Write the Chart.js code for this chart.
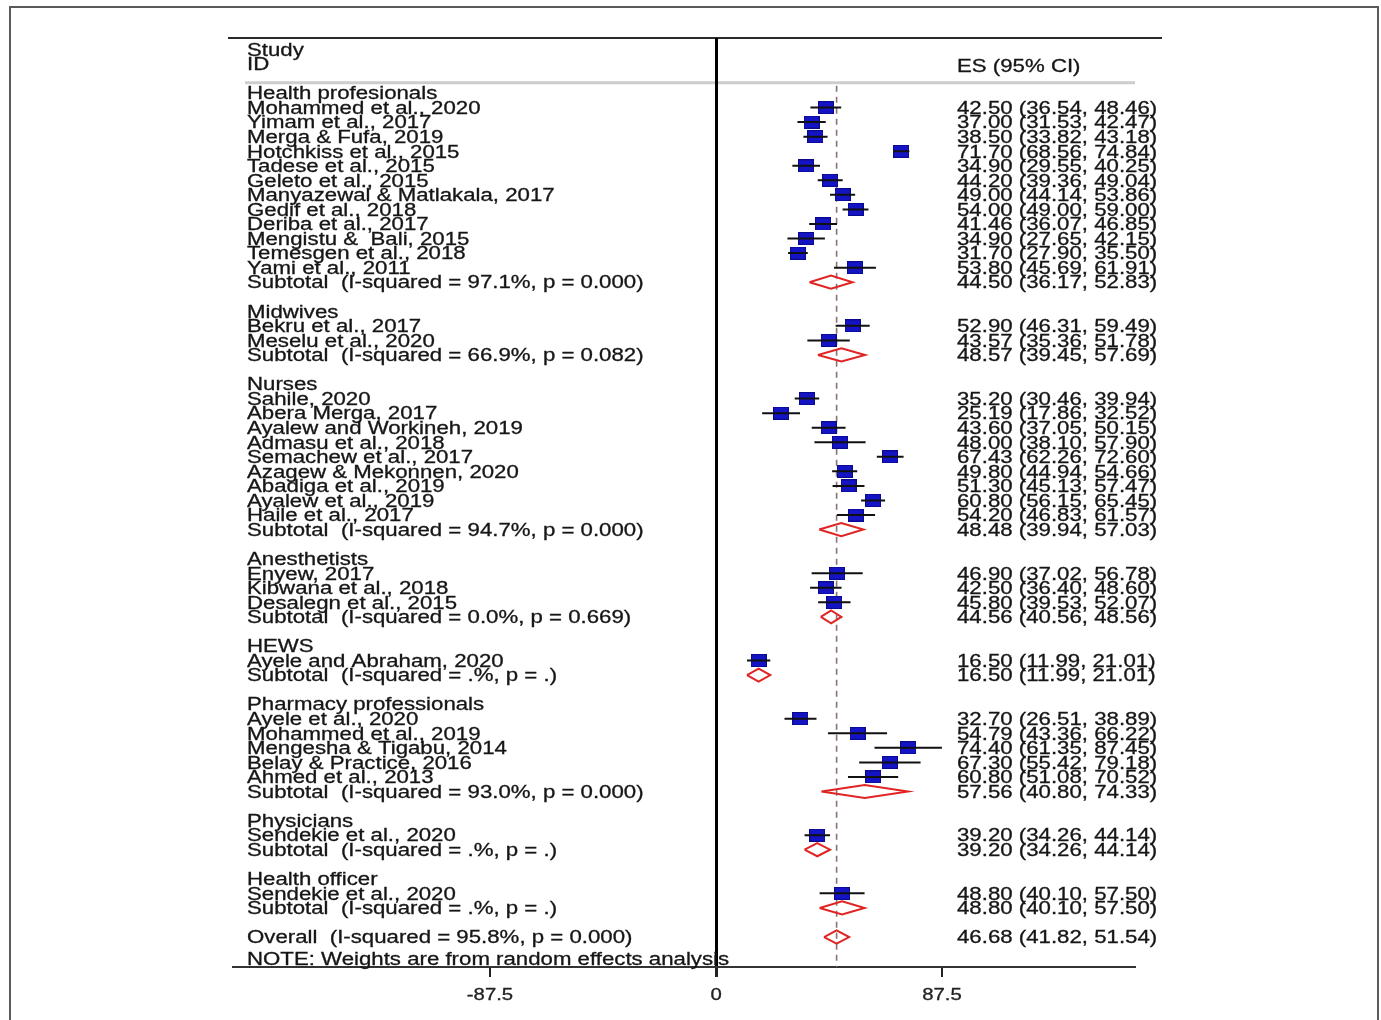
<!DOCTYPE html>
<html>
<head>
<meta charset="utf-8">
<script src="https://cdn.jsdelivr.net/npm/chart.js@4.4.1/dist/chart.umd.min.js"></script>
<style>
  html, body { margin: 0; padding: 0; background: #fff; }
  #wrap { position: relative; width: 1381px; height: 1020px; }
</style>
</head>
<body>
<div id="wrap"><canvas id="forest"></canvas></div>
<script>
// ---- data ----
const groupNames = [
    'Health profesionals', 'Midwives', 'Nurses', 'Anesthetists',
    'HEWS', 'Pharmacy professionals', 'Physicians', 'Health officer'
];

const studyNames = [
    'Mohammed et al., 2020', 'Yimam et al., 2017', 'Merga & Fufa, 2019', 'Hotchkiss et al., 2015',
    'Tadese et al., 2015', 'Geleto et al., 2015', 'Manyazewal & Matlakala, 2017', 'Gedif et al., 2018',
    'Deriba et al., 2017', 'Mengistu &  Bali, 2015', 'Temesgen et al., 2018', 'Yami et al., 2011',
    'Bekru et al., 2017', 'Meselu et al., 2020',
    'Sahile, 2020', 'Abera Merga, 2017', 'Ayalew and Workineh, 2019', 'Admasu et al., 2018',
    'Semachew et al., 2017', 'Azagew & Mekonnen, 2020', 'Abadiga et al., 2019', 'Ayalew et al., 2019',
    'Haile et al., 2017',
    'Enyew, 2017', 'Kibwana et al., 2018', 'Desalegn et al., 2015',
    'Ayele and Abraham, 2020',
    'Ayele et al., 2020', 'Mohammed et al., 2019', 'Mengesha & Tigabu, 2014', 'Belay & Practice, 2016',
    'Ahmed et al., 2013',
    'Sendekie et al., 2020',
    'Sendekie et al., 2020'
];
const studyGroup = [
    0, 0, 0, 0, 0, 0, 0, 0, 0, 0, 0, 0,
    1, 1,
    2, 2, 2, 2, 2, 2, 2, 2, 2,
    3, 3, 3,
    4,
    5, 5, 5, 5, 5,
    6,
    7
];
const studyES = [
    42.50, 37.00, 38.50, 71.70, 34.90, 44.20, 49.00, 54.00, 41.46, 34.90, 31.70, 53.80,
    52.90, 43.57,
    35.20, 25.19, 43.60, 48.00, 67.43, 49.80, 51.30, 60.80, 54.20,
    46.90, 42.50, 45.80,
    16.50,
    32.70, 54.79, 74.40, 67.30, 60.80,
    39.20,
    48.80
];
const studyLower = [
    36.54, 31.53, 33.82, 68.56, 29.55, 39.36, 44.14, 49.00, 36.07, 27.65, 27.90, 45.69,
    46.31, 35.36,
    30.46, 17.86, 37.05, 38.10, 62.26, 44.94, 45.13, 56.15, 46.83,
    37.02, 36.40, 39.53,
    11.99,
    26.51, 43.36, 61.35, 55.42, 51.08,
    34.26,
    40.10
];
const studyUpper = [
    48.46, 42.47, 43.18, 74.84, 40.25, 49.04, 53.86, 59.00, 46.85, 42.15, 35.50, 61.91,
    59.49, 51.78,
    39.94, 32.52, 50.15, 57.90, 72.60, 54.66, 57.47, 65.45, 61.57,
    56.78, 48.60, 52.07,
    21.01,
    38.89, 66.22, 87.45, 79.18, 70.52,
    44.14,
    57.50
];

const subtotalLabels = [
    'Subtotal  (I-squared = 97.1%, p = 0.000)',
    'Subtotal  (I-squared = 66.9%, p = 0.082)',
    'Subtotal  (I-squared = 94.7%, p = 0.000)',
    'Subtotal  (I-squared = 0.0%, p = 0.669)',
    'Subtotal  (I-squared = .%, p = .)',
    'Subtotal  (I-squared = 93.0%, p = 0.000)',
    'Subtotal  (I-squared = .%, p = .)',
    'Subtotal  (I-squared = .%, p = .)'
];
const subtotalES = [44.50, 48.57, 48.48, 44.56, 16.50, 57.56, 39.20, 48.80];
const subtotalLower = [36.17, 39.45, 39.94, 40.56, 11.99, 40.80, 34.26, 40.10];
const subtotalUpper = [52.83, 57.69, 57.03, 48.56, 21.01, 74.33, 44.14, 57.50];

const overallLabel = 'Overall  (I-squared = 95.8%, p = 0.000)';
const overallES = 46.68;
const overallLower = 41.82;
const overallUpper = 51.54;

const xTicks = [-87.5, 0, 87.5];
const noteText = 'NOTE: Weights are from random effects analysis';

// ---- row layout ----
const rows = [];
let r = 0;
groupNames.forEach(function (g, gi) {
    rows.push({row: r++, text: g, kind: 'group'});
    studyNames.forEach(function (s, i) {
        if (studyGroup[i] === gi) {
            rows.push({row: r++, text: s, kind: 'study', es: studyES[i], lo: studyLower[i], hi: studyUpper[i]});
        }
    });
    rows.push({row: r++, text: subtotalLabels[gi], kind: 'pooled', es: subtotalES[gi], lo: subtotalLower[gi], hi: subtotalUpper[gi]});
    r++; // blank line between groups
});
rows.push({row: r, text: overallLabel, kind: 'pooled', es: overallES, lo: overallLower, hi: overallUpper});
const noteRow = r + 1.5;

const Y_MIN = -3.78, Y_MAX = 60.06;
const DIAMOND_H = 0.45;

// blue weight box
const box = document.createElement('canvas');
box.width = 16;
box.height = 13;
(function () {
    const c = box.getContext('2d');
    c.fillStyle = '#1414c4';
    c.fillRect(0, 0, 16, 13);
    c.strokeStyle = '#0a0a90';
    c.lineWidth = 1;
    c.strokeRect(0.5, 0.5, 15, 12);
})();

const studies = rows.filter(d => d.kind === 'study');
const pooled = rows.filter(d => d.kind === 'pooled');
const gap = {x: null, y: null};

const ciData = [];
studies.forEach(function (d) {
    ciData.push({x: d.lo, y: d.row}, {x: d.hi, y: d.row}, gap);
});
const diamondData = [];
pooled.forEach(function (d) {
    diamondData.push(
        {x: d.lo, y: d.row}, {x: d.es, y: d.row - DIAMOND_H},
        {x: d.hi, y: d.row}, {x: d.es, y: d.row + DIAMOND_H},
        {x: d.lo, y: d.row}, gap
    );
});

const FAMILY = '"Liberation Sans", Arial, sans-serif';
const FONT = '17.5px ' + FAMILY;
const STRETCH = 1.27;
const TEXT_COLOR = '#161616';

function stretchedText(ctx, text, x, y) {
    ctx.save();
    ctx.translate(x, y);
    ctx.scale(STRETCH, 1);
    ctx.fillText(text, 0, 0);
    ctx.strokeText(text, 0, 0);
    ctx.restore();
}

const forestDecor = {
    id: 'forestDecor',
    beforeDraw(chart) {
        const ctx = chart.ctx;
        const a = chart.chartArea;
        const y = chart.scales.y;
        ctx.save();
        ctx.fillStyle = '#fff';
        ctx.fillRect(0, 0, chart.width, chart.height);
        // outer frame
        ctx.strokeStyle = '#5a5a5a';
        ctx.lineWidth = 2;
        ctx.strokeRect(10, 7, 1368, 1040);
        // top rule
        ctx.strokeStyle = '#2a2a2a';
        ctx.lineWidth = 2;
        ctx.beginPath();
        ctx.moveTo(228, a.top);
        ctx.lineTo(1162, a.top);
        ctx.stroke();
        // header rule
        ctx.strokeStyle = '#cdcdcd';
        ctx.lineWidth = 3;
        const hy = y.getPixelForValue(-0.7);
        ctx.beginPath();
        ctx.moveTo(245, hy);
        ctx.lineTo(a.right, hy);
        ctx.stroke();
        ctx.restore();
    },
    afterDraw(chart) {
        const ctx = chart.ctx;
        const y = chart.scales.y;
        const x = chart.scales.x;
        const leftX = 247, rightX = 957;
        ctx.save();
        ctx.font = FONT;
        ctx.fillStyle = TEXT_COLOR;
        ctx.strokeStyle = TEXT_COLOR;
        ctx.lineWidth = 0.3;
        ctx.textBaseline = 'alphabetic';
        const base = v => y.getPixelForValue(v) + 6.3;
        stretchedText(ctx, 'Study', leftX, base(-3));
        stretchedText(ctx, 'ID', leftX, base(-2));
        stretchedText(ctx, 'ES (95% CI)', rightX, base(-1.85));
        rows.forEach(function (d) {
            stretchedText(ctx, d.text, leftX, base(d.row));
            if (d.kind !== 'group') {
                const s = d.es.toFixed(2) + ' (' + d.lo.toFixed(2) + ', ' + d.hi.toFixed(2) + ')';
                stretchedText(ctx, s, rightX, base(d.row));
            }
        });
        stretchedText(ctx, noteText, leftX, base(noteRow));

        // x tick labels, same stretched face as the rest of the plot
        ctx.font = '16px ' + FAMILY;
        ctx.fillStyle = '#222';
        ctx.strokeStyle = '#222';
        ctx.textAlign = 'center';
        xTicks.forEach(function (v) {
            stretchedText(ctx, String(v), x.getPixelForValue(v), 1000);
        });
        ctx.restore();
    }
};

new Chart(document.getElementById('forest'), {
    type: 'scatter',
    data: {
        datasets: [
            {
                label: 'ci',
                data: ciData,
                showLine: true,
                borderColor: '#111',
                borderWidth: 2,
                pointRadius: 0,
                spanGaps: false
            },
            {
                label: 'studies',
                data: studies.map(d => ({x: d.es, y: d.row})),
                pointStyle: box,
                pointRadius: 8,
                showLine: false
            },
            {
                label: 'pooled',
                data: diamondData,
                showLine: true,
                borderColor: '#e02424',
                borderWidth: 2,
                pointRadius: 0,
                spanGaps: false
            },
            {
                label: 'overall',
                data: [{x: overallES, y: -0.5}, {x: overallES, y: Y_MAX}],
                showLine: true,
                borderColor: '#8a7272',
                borderWidth: 1.6,
                borderDash: [6, 5],
                pointRadius: 0
            }
        ]
    },
    options: {
        responsive: true,
        maintainAspectRatio: false,
        animation: false,
        layout: {
            padding: {left: 233, right: 246, top: 38, bottom: 13}
        },
        plugins: {
            legend: false,
            tooltip: {enabled: false}
        },
        scales: {
            x: {
                type: 'linear',
                min: -187.0,
                max: 162.2,
                afterBuildTicks: function (scale) {
                    scale.ticks = xTicks.map(v => ({value: v}));
                },
                afterFit: function (scale) {
                    scale.height = 40;
                },
                ticks: {
                    padding: 7,
                    color: 'rgba(0,0,0,0)',
                    font: {family: FAMILY, size: 16},
                    callback: v => String(v)
                },
                grid: {
                    drawOnChartArea: true,
                    color: c => (c.tick && c.tick.value === 0 ? '#000' : 'rgba(0,0,0,0)'),
                    lineWidth: c => (c.tick && c.tick.value === 0 ? 3 : 2),
                    tickColor: '#222',
                    tickLength: 10
                },
                border: {
                    display: true,
                    color: '#333',
                    width: 2
                }
            },
            y: {
                type: 'linear',
                display: false,
                reverse: true,
                min: Y_MIN,
                max: Y_MAX
            }
        }
    },
    plugins: [forestDecor]
});
</script>
</body>
</html>
